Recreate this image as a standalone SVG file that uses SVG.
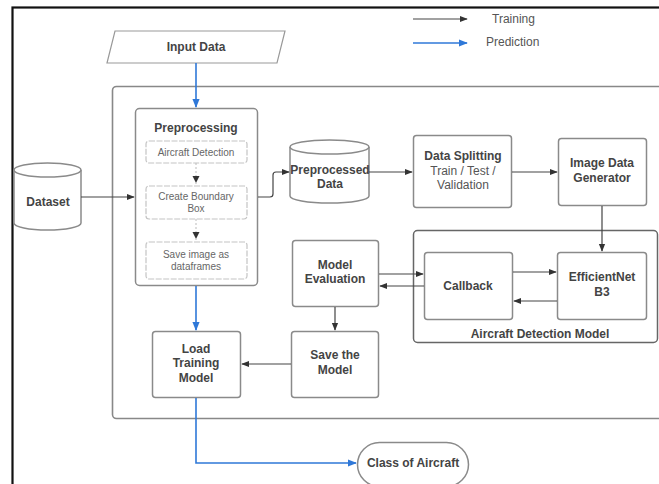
<svg xmlns="http://www.w3.org/2000/svg" width="659" height="484" viewBox="0 0 659 484">
<style>
.box{fill:#fff;stroke:#8a8a8a;stroke-width:1.5}
.sub{fill:#fff;stroke:#c4c4c4;stroke-width:1.2;stroke-dasharray:6 1.5}
.t{font-family:"Liberation Sans",Arial,sans-serif;font-size:12px;font-weight:bold;fill:#444;text-anchor:middle}
.n{font-family:"Liberation Sans",Arial,sans-serif;font-size:12px;fill:#555;text-anchor:middle}
.s{font-family:"Liberation Sans",Arial,sans-serif;font-size:10px;fill:#666;text-anchor:middle}
.k{fill:none;stroke:#444;stroke-width:1.2}
.b{fill:none;stroke:#2f78d8;stroke-width:1.6}
.d{fill:none;stroke:#bbb;stroke-width:1;stroke-dasharray:2 2}
</style>
<defs>
<marker id="ak" viewBox="0 0 10 10" refX="9" refY="5" markerWidth="8" markerHeight="8" markerUnits="userSpaceOnUse" orient="auto"><path d="M0,1 L10,5 L0,9 z" fill="#333"/></marker>
<marker id="ab" viewBox="0 0 10 10" refX="9" refY="5" markerWidth="9" markerHeight="9" markerUnits="userSpaceOnUse" orient="auto"><path d="M0,1 L10,5 L0,9 z" fill="#2f78d8"/></marker>
</defs>
<rect x="0" y="0" width="659" height="484" fill="#fff"/>
<rect x="12.5" y="7.5" width="660" height="500" fill="none" stroke="#111" stroke-width="2.2"/>
<rect x="112.5" y="86.5" width="600" height="332" rx="4" fill="none" stroke="#888" stroke-width="1.6"/>

<g id="legend">
<line x1="413" y1="19" x2="467" y2="19" class="k" stroke="#666" marker-end="url(#ak)"/>
<text x="492" y="23" font-family="Liberation Sans,Arial,sans-serif" font-size="12" fill="#555">Training</text>
<line x1="413" y1="43" x2="467" y2="43" class="b" marker-end="url(#ab)"/>
<text x="486" y="46" font-family="Liberation Sans,Arial,sans-serif" font-size="12" fill="#555">Prediction</text>
</g>

<g id="input-data">
<path d="M115,31 H285 L277,63 H107 Z" fill="#fff" stroke="#999" stroke-width="1.2"/>
<text x="196" y="51" class="t">Input Data</text>
</g>

<g id="dataset">
<path d="M14,170 a33.5,7 0 0 1 67,0 v53 a33.5,7 0 0 1 -67,0 z" class="box"/>
<path d="M14,170 a33.5,7 0 0 0 67,0" class="box" fill="none"/>
<text x="48" y="206" class="t">Dataset</text>
</g>

<g id="preprocessing">
<rect x="135.5" y="108.5" width="122" height="177" rx="4" class="box"/>
<text x="196" y="132" class="t">Preprocessing</text>
<rect x="146" y="141" width="101" height="22" rx="3" class="sub"/>
<text x="196" y="156" class="s">Aircraft Detection</text>
<rect x="146" y="186" width="101" height="33" rx="3" class="sub"/>
<text x="196" y="200" class="s">Create Boundary</text>
<text x="196" y="212" class="s">Box</text>
<rect x="146" y="242" width="101" height="37" rx="3" class="sub"/>
<text x="196" y="258" class="s">Save image as</text>
<text x="196" y="270" class="s">dataframes</text>
</g>

<g id="preprocessed-data">
<path d="M290,147 a39.5,7 0 0 1 79,0 v49 a39.5,7 0 0 1 -79,0 z" class="box"/>
<path d="M290,147 a39.5,7 0 0 0 79,0" class="box" fill="none"/>
<text x="330" y="174" class="t">Preprocessed</text>
<text x="330" y="188" class="t">Data</text>
</g>

<g id="data-splitting">
<rect x="413.5" y="135.5" width="98" height="72" rx="3" class="box"/>
<text x="463" y="160" class="t">Data Splitting</text>
<text x="463" y="175" class="n">Train / Test /</text>
<text x="463" y="189" class="n">Validation</text>
</g>

<g id="image-data-generator">
<rect x="558.5" y="138.5" width="88" height="67" rx="3" class="box"/>
<text x="602" y="167" class="t">Image Data</text>
<text x="602" y="182" class="t">Generator</text>
</g>

<g id="aircraft-detection-model">
<rect x="413.5" y="230.5" width="244" height="112" rx="4" fill="none" stroke="#666" stroke-width="1.5"/>
<text x="540" y="338" class="t" font-size="10.5">Aircraft Detection Model</text>
</g>

<g id="callback">
<rect x="424.5" y="252.5" width="88" height="67" rx="3" class="box"/>
<text x="468" y="290" class="t">Callback</text>
</g>

<g id="efficientnet">
<rect x="557.5" y="252.5" width="89" height="67" rx="3" class="box"/>
<text x="602" y="281" class="t">EfficientNet</text>
<text x="602" y="296" class="t">B3</text>
</g>

<g id="model-evaluation">
<rect x="292.5" y="240.5" width="86" height="66" rx="3" class="box"/>
<text x="335" y="269" class="t">Model</text>
<text x="335" y="283" class="t">Evaluation</text>
</g>

<g id="save-model">
<rect x="291.5" y="331.5" width="87" height="66" rx="3" class="box"/>
<text x="335" y="359" class="t">Save the</text>
<text x="335" y="374" class="t">Model</text>
</g>

<g id="load-training-model">
<rect x="152.5" y="331.5" width="88" height="66" rx="3" class="box"/>
<text x="196" y="353" class="t">Load</text>
<text x="196" y="367" class="t">Training</text>
<text x="196" y="382" class="t">Model</text>
</g>

<g id="class-of-aircraft">
<rect x="357.5" y="442.5" width="111" height="44" rx="22" class="box" stroke="#666"/>
<text x="413" y="467" class="t">Class of Aircraft</text>
</g>

<g id="connectors">
<line x1="196" y1="63" x2="196" y2="107" class="b" marker-end="url(#ab)"/>
<line x1="196" y1="163" x2="196" y2="184" class="d"/>
<path d="M196,176 l-3.5,0 l3.5,7 l3.5,-7 z" fill="#333"/>
<line x1="196" y1="219" x2="196" y2="240" class="d"/>
<path d="M196,232 l-3.5,0 l3.5,7 l3.5,-7 z" fill="#333"/>
<line x1="81" y1="197" x2="134" y2="197" class="k" marker-end="url(#ak)"/>
<path d="M258,197 H270 Q273,197 273,194 V175 Q273,172 276,172 H289" class="k" marker-end="url(#ak)"/>
<line x1="369" y1="172" x2="412" y2="172" class="k" marker-end="url(#ak)"/>
<line x1="512" y1="172" x2="557" y2="172" class="k" marker-end="url(#ak)"/>
<line x1="602" y1="206" x2="602" y2="251" class="k" marker-end="url(#ak)"/>
<line x1="513" y1="272" x2="556" y2="272" class="k" marker-end="url(#ak)"/>
<line x1="557" y1="301" x2="514" y2="301" class="k" marker-end="url(#ak)"/>
<line x1="379" y1="274" x2="423" y2="274" class="k" marker-end="url(#ak)"/>
<line x1="424" y1="286" x2="380" y2="286" class="k" marker-end="url(#ak)"/>
<line x1="335" y1="307" x2="335" y2="330" class="k" marker-end="url(#ak)"/>
<line x1="291" y1="364" x2="242" y2="364" class="k" marker-end="url(#ak)"/>
<line x1="196" y1="286" x2="196" y2="330" class="b" marker-end="url(#ab)"/>
<path d="M196,398 V463 H356" class="b" marker-end="url(#ab)"/>
</g>
</svg>
